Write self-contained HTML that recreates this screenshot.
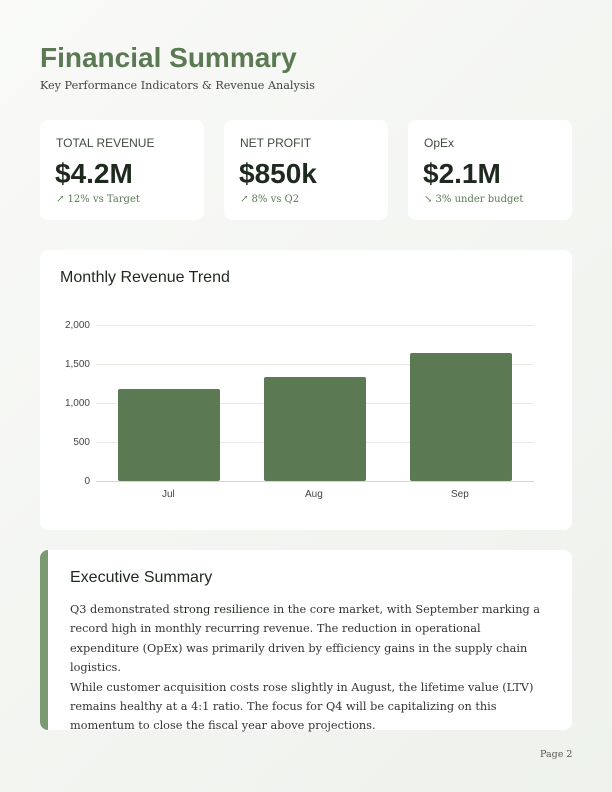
<!DOCTYPE html>
<html><head><meta charset="utf-8"><style>
*{margin:0;padding:0;box-sizing:border-box}
body{width:612px;height:792px;background:linear-gradient(135deg,#f9faf8,#eef1ec);position:relative;font-family:"Liberation Sans",sans-serif;overflow:hidden}
.a{position:absolute}
.card{position:absolute;background:#fff;border-radius:8px}
.lbl{position:absolute;left:16px;top:16px;font-size:12px;color:#3f4a3e}
.val{position:absolute;left:15px;top:38px;font-size:28px;font-weight:bold;color:#1f2a1f}
.sub{position:absolute;left:16px;top:74px;color:#5a7a55;font-family:"DejaVu Serif",serif;font-size:10px}
.tk{position:absolute;font-size:10px;color:#444;text-align:right;width:40px}
.body{font-family:"DejaVu Serif",serif;font-size:11.3px;color:#333;line-height:19.4px;white-space:nowrap}
</style></head><body>
<div class="a" style="left:40px;top:42px;font-size:28px;font-weight:bold;color:#5b7a53">Financial Summary</div>
<div class="a" style="left:40px;top:79px;font-family:'DejaVu Serif',serif;font-size:11.2px;color:#444">Key Performance Indicators &amp; Revenue Analysis</div>

<div class="card" style="left:40px;top:120px;width:164px;height:100px"><div class="lbl">TOTAL REVENUE</div><div class="val">$4.2M</div><div class="sub">↗ 12% vs Target</div></div>
<div class="card" style="left:224px;top:120px;width:164px;height:100px"><div class="lbl">NET PROFIT</div><div class="val">$850k</div><div class="sub">↗ 8% vs Q2</div></div>
<div class="card" style="left:408px;top:120px;width:164px;height:100px"><div class="lbl">OpEx</div><div class="val">$2.1M</div><div class="sub">↘ 3% under budget</div></div>

<div class="card" style="left:40px;top:250px;width:532px;height:280px"></div>
<div class="a" style="left:60px;top:269px;font-size:16px;color:#1f2a1f">Monthly Revenue Trend</div>
<svg class="a" style="left:0;top:0" width="612" height="792">
<g stroke="#e6ebe4" stroke-width="1">
<line x1="96" x2="534" y1="325.5" y2="325.5"/><line x1="96" x2="534" y1="364.5" y2="364.5"/><line x1="96" x2="534" y1="403.5" y2="403.5"/><line x1="96" x2="534" y1="442.5" y2="442.5"/>
</g>
<line x1="96" x2="534" y1="481.5" y2="481.5" stroke="#cfd8cc"/>
<g fill="#5b7a53">
<rect x="118" y="389" width="102" height="92" rx="2"/>
<rect x="264" y="377" width="102" height="104" rx="2"/>
<rect x="410" y="353" width="102" height="128" rx="2"/>
</g>
</svg>
<div class="tk" style="left:50px;top:320px">2,000</div>
<div class="tk" style="left:50px;top:359px">1,500</div>
<div class="tk" style="left:50px;top:398px">1,000</div>
<div class="tk" style="left:50px;top:437px">500</div>
<div class="tk" style="left:50px;top:476px">0</div>
<div class="a" style="left:162px;top:489px;font-size:10px;color:#444">Jul</div>
<div class="a" style="left:305px;top:489px;font-size:10px;color:#444">Aug</div>
<div class="a" style="left:451px;top:489px;font-size:10px;color:#444">Sep</div>

<div class="card" style="left:40px;top:550px;width:532px;height:180px;border-radius:8px;overflow:hidden"><div style="position:absolute;left:0;top:0;width:8px;height:180px;background:#7a9a72"></div></div>
<div class="a" style="left:70px;top:569px;font-size:16px;color:#1f2a1f">Executive Summary</div>
<div class="a body" style="left:70px;top:600px">Q3 demonstrated <span style="color:#1f2a1f">strong resilience</span> in the core market, with September marking a<br>record high in monthly recurring revenue. The reduction in operational<br>expenditure (OpEx) was primarily driven by efficiency gains in the supply chain<br>logistics.<br>While customer acquisition costs rose slightly in August, the lifetime value (LTV)<br>remains healthy at a 4:1 ratio. The focus for Q4 will be capitalizing on this<br>momentum to close the fiscal year above projections.</div>
<div class="a" style="left:540px;top:749px;font-family:'DejaVu Serif',serif;font-size:9.5px;color:#555">Page 2</div>
</body></html>
